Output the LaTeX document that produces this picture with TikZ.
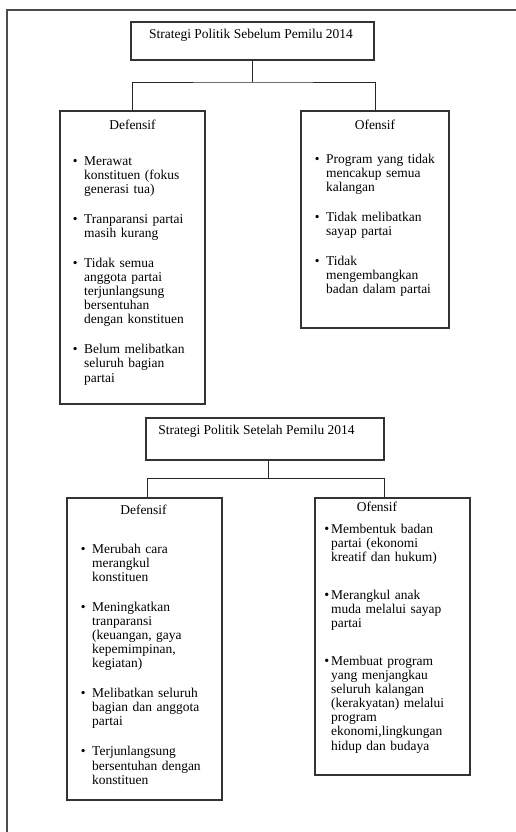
\documentclass[tikz,border=0pt]{standalone}
\usepackage{fontspec}
\setmainfont{Liberation Serif}
\usepackage{enumitem}
\usetikzlibrary{positioning}

\tikzset{
  box/.style={draw=black!80, line width=0.9pt, inner sep=0pt},
  link/.style={draw=black!85, line width=0.8pt},
  frame/.style={draw=black!70, line width=1.6pt},
  txt/.style={inner sep=0pt, font=\fontsize{11.5}{12}\selectfont},
  itemlist/.style={txt, anchor=north west, text width=4.6cm, align=left},
}
\setlist[itemize]{nosep, leftmargin=0.33cm, labelsep=0.2cm, itemsep=0.48cm}

\begin{document}
\begin{tikzpicture}[x=0.03cm, y=-0.03cm]
  \useasboundingbox (0,0) rectangle (516,832);
  % page edge
  \draw[frame] (7,832) -- (7,10) -- (516,10);

  % sebelum pemilu
  \node[box, minimum width=7.29cm, minimum height=1.14cm] (top1) at (252.5,41) {};
  \node[txt] (title1) at (251,35) {Strategi Politik Sebelum Pemilu 2014};
  \node[box, minimum width=4.35cm, minimum height=8.79cm] (def1) at (132.5,257.5) {};
  \node[box, minimum width=4.44cm, minimum height=6.51cm] (of1) at (375,219.5) {};
  \coordinate (fork1) at (252.5,82);
  \draw[link] (top1.south) -- (fork1);
  \draw[link] (def1.north) |- (fork1) -| (of1.north);

  \node[txt] (def1h) at (132.5,125) {Defensif};
  \node[itemlist] (def1l) at (73,151) {%
    \begin{itemize}
      \item Merawat\newline konstituen (fokus\newline generasi tua)
      \item Tranparansi partai\newline masih kurang
      \item Tidak semua\newline anggota partai\newline terjunlangsung\newline bersentuhan\newline dengan konstituen
      \item Belum melibatkan\newline seluruh bagian\newline partai
    \end{itemize}};

  \node[txt] (of1h) at (375,125) {Ofensif};
  \node[itemlist] (of1l) at (315,149) {%
    \begin{itemize}
      \item Program yang tidak\newline mencakup semua\newline kalangan
      \item Tidak melibatkan\newline sayap partai
      \item Tidak\newline mengembangkan\newline badan dalam partai
    \end{itemize}};

  % setelah pemilu
  \node[box, minimum width=7.14cm, minimum height=1.26cm] (top2) at (265,439) {};
  \node[txt] (title2) at (256.5,431) {Strategi Politik Setelah Pemilu 2014};
  \node[box, minimum width=4.65cm, minimum height=9.06cm] (def2) at (144.5,649) {};
  \node[box, minimum width=4.65cm, minimum height=8.31cm] (of2) at (392.5,636.5) {};
  \coordinate (fork2) at (268,478);
  \coordinate (left2) at (147,478);
  \coordinate (right2) at (384,478);
  \draw[link] (top2.south -| fork2) -- (fork2);
  \draw[link] (def2.north -| left2) -- (left2) -- (right2) -- (of2.north -| right2);

  \node[txt] (def2h) at (143.5,510) {Defensif};
  \node[itemlist] (def2l) at (81,539) {%
    \begin{itemize}
      \item Merubah cara\newline merangkul\newline konstituen
      \item Meningkatkan\newline tranparansi\newline (keuangan, gaya\newline kepemimpinan,\newline kegiatan)
      \item Melibatkan seluruh\newline bagian dan anggota\newline partai
      \item Terjunlangsung\newline bersentuhan dengan\newline konstituen
    \end{itemize}};

  \node[txt] (of2h) at (377,507) {Ofensif};
  \node[itemlist] (of2l) at (324,519) {%
    \begin{itemize}[leftmargin=0.21cm, labelsep=0.06cm, itemsep=0.72cm, label={\large\textbullet}]
      \item Membentuk badan\newline partai (ekonomi\newline kreatif dan hukum)
      \item Merangkul anak\newline muda melalui sayap\newline partai
      \item Membuat program\newline yang menjangkau\newline seluruh kalangan\newline (kerakyatan) melalui\newline program\newline ekonomi,lingkungan\newline hidup dan budaya
    \end{itemize}};
\end{tikzpicture}
\end{document}
